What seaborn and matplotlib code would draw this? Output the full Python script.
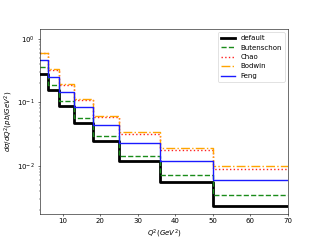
import numpy as np
import pandas as pd
import matplotlib
matplotlib.use("Agg")
import matplotlib.pyplot as plt
import seaborn as sns

edges = [4, 6, 9, 13, 18, 25, 36, 50, 70]
default = [0.283, 0.156, 0.088, 0.048, 0.0241, 0.0117, 0.00543, 0.00232]
butenschon = [0.36, 0.19, 0.106, 0.0565, 0.0289, 0.014, 0.0071, 0.00347]
chao = [0.60, 0.327, 0.19, 0.110, 0.059, 0.032, 0.0176, 0.00884]
bodwin = [0.61, 0.336, 0.195, 0.113, 0.0613, 0.0335, 0.0187, 0.00986]
feng = [0.47, 0.254, 0.148, 0.083, 0.0438, 0.0224, 0.0117, 0.00593]

series = [
    ("default", default, "#000000", "-", 4.0),
    ("Butenschon", butenschon, "#1a8c1a", "--", 2.0),
    ("Chao", chao, "#ff2020", ":", 2.0),
    ("Bodwin", bodwin, "#ffa500", "-.", 2.0),
    ("Feng", feng, "#1a1aff", "-", 2.0),
]

fig, ax = plt.subplots(figsize=(6.4, 4.8), dpi=50)
for name, vals, color, ls, lw in series:
    df = pd.DataFrame({"x": edges, "y": list(vals) + [vals[-1]]})
    sns.lineplot(data=df, x="x", y="y", drawstyle="steps-post", color=color,
                 linestyle=ls, linewidth=lw, label=name, ax=ax)

ax.set_yscale("log")
ax.set_xlim(4, 70)
ax.set_ylim(1.75e-3, 1.45)
ax.set_xlabel(r"$Q^2(GeV^2)$")
ax.set_ylabel(r"$d\sigma/dQ^2(pb/GeV^2)$")
ax.legend(loc="upper right")
fig.savefig("out.png", dpi=50)
